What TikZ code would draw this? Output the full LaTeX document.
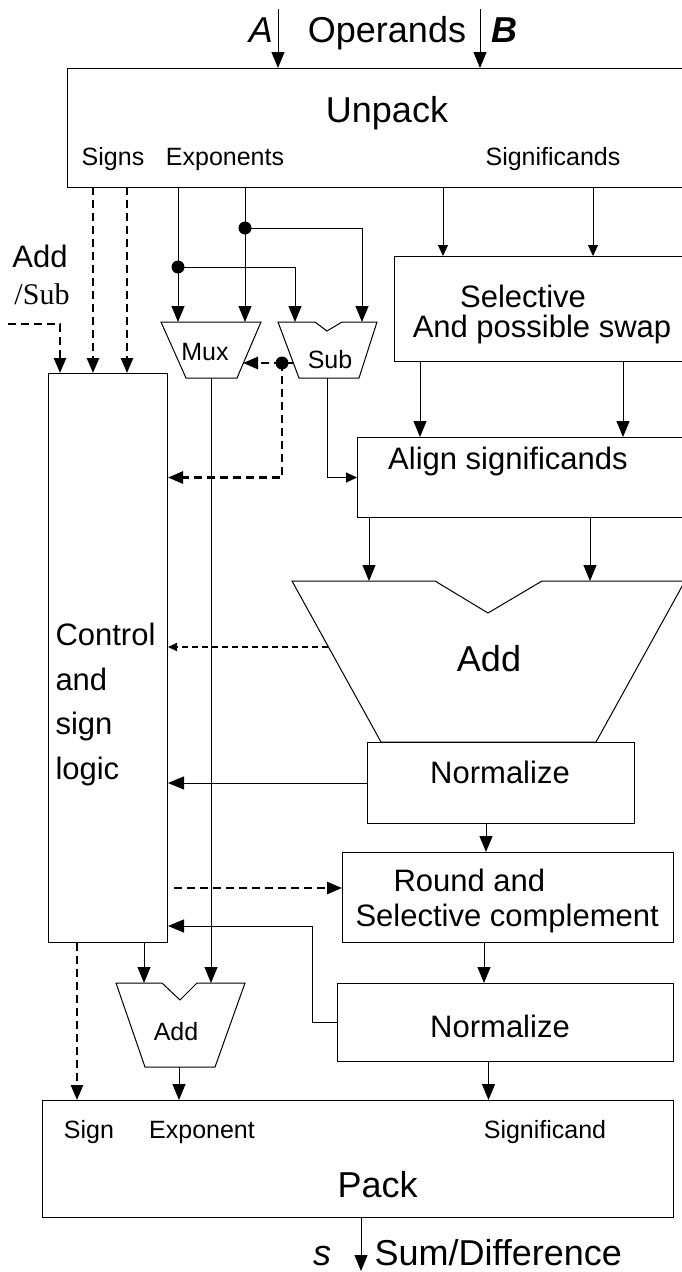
\documentclass[tikz,border=0pt]{standalone}
\usepackage{fontspec}
\setmainfont{Liberation Sans}
\newfontfamily\serifsub{Liberation Serif}
\usetikzlibrary{arrows.meta,calc}

\begin{document}
\begin{tikzpicture}[x=1pt,y=-1pt,line width=1pt,
    blk/.style={draw,inner sep=0pt,anchor=north west},
    big/.style={font=\fontsize{36}{40}\selectfont,anchor=base,inner sep=0pt},
    mid/.style={font=\fontsize{31}{36}\selectfont,anchor=base,inner sep=0pt},
    sml/.style={font=\fontsize{25}{30}\selectfont,anchor=base,inner sep=0pt},
    sig/.style={-{Triangle[length=16pt,width=13pt]}},
    tiny/.style={-{Triangle[length=11pt,width=10pt]}},
    ctl/.style={-{Triangle[length=15pt,width=12pt]},line width=2.6pt,
                dash pattern=on 8pt off 5pt},
    ctlthin/.style={-{Triangle[length=9pt,width=8pt]},line width=1.8pt,
                dash pattern=on 6pt off 4pt},
    joint/.style={circle,fill,inner sep=0pt,minimum size=13pt}]

    \useasboundingbox (0,0) rectangle (681,1272);

    % blocks
    \node[blk,minimum width=633pt,minimum height=119pt] (unpack) at (67,68) {};
    \node[blk,minimum width=306pt,minimum height=105pt] (sel) at (394,256) {};
    \node[blk,minimum width=343pt,minimum height=80pt] (align) at (357,437) {};
    \node[blk,minimum width=119pt,minimum height=569pt] (ctrl) at (48,373) {};
    \node[blk,minimum width=267pt,minimum height=81pt] (norm1) at (367,742) {};
    \node[blk,minimum width=331pt,minimum height=90pt] (round) at (342,852) {};
    \node[blk,minimum width=336pt,minimum height=78pt] (norm2) at (337,983) {};
    \node[blk,minimum width=631pt,minimum height=117pt] (pack) at (42,1100) {};

    % mux, subtractor and the two adders
    \draw (161,322) -- (261,322) -- (237,378) -- (186,378) -- cycle;
    \draw (278,322) -- (315,322) -- (327,331) -- (342,322) -- (377,322)
          -- (359,378) -- (299,378) -- cycle;
    \draw (292,581) -- (435,581) -- (488,613) -- (542,581) -- (685,581)
          -- (596,742) -- (381,742) -- cycle;
    \draw (116,983) -- (162,983) -- (180,1000) -- (197,983) -- (245,983)
          -- (215,1067) -- (145,1067) -- cycle;

    % ports
    \coordinate (opA) at (278,9);
    \coordinate (opB) at (480,9);
    \coordinate (sgA) at (93,187);
    \coordinate (sgB) at (127,187);
    \coordinate (exA) at (178,187);
    \coordinate (exB) at (245,187);
    \coordinate (sfA) at (443,187);
    \coordinate (sfB) at (593,187);
    \coordinate (addsub) at (8,324);
    \coordinate (muxA) at (178,322);
    \coordinate (muxB) at (245,322);
    \coordinate (subA) at (295,322);
    \coordinate (subB) at (362,322);
    \coordinate (muxR) at (243,363);
    \coordinate (subL) at (293,363);
    \coordinate (muxO) at (211,378);
    \coordinate (subO) at (327,378);
    \coordinate (addA) at (369,581);
    \coordinate (addB) at (590,581);
    \coordinate (addL) at (328,647);
    \coordinate (rdIn) at (342,888);
    \coordinate (fb) at (312,926);
    \coordinate (eaddA) at (144,983);
    \coordinate (eaddB) at (211,983);
    \coordinate (eaddO) at (179,1067);
    \coordinate (out) at (361,1271);

    % texts
    \node[big] (tA) at (261,42) {\itshape A};
    \node[big] (tOp) at (387,42) {Operands};
    \node[big] (tB) at (504,42) {\bfseries\itshape B};
    \node[big] (tUn) at (387,122) {Unpack};
    \node[sml] (tSg) at (113,165) {Signs};
    \node[sml] (tEx) at (225,165) {Exponents};
    \node[sml] (tSf) at (553,165) {Significands};
    \node[mid] (tAdd) at (40,267) {Add};
    \node[mid,font=\serifsub\fontsize{30}{34}\selectfont] (tSub) at (42,304) {/Sub};
    \node[sml] (tMux) at (205,360) {Mux};
    \node[sml] (tSb) at (330,368) {Sub};
    \node[mid] (tSel) at (523,307) {Selective};
    \node[mid] (tSw) at (542,337) {And possible swap};
    \node[mid] (tAl) at (508,469) {Align significands};
    \node[mid,anchor=north west,align=left,font=\fontsize{31}{44.5}\selectfont]
      (tCt) at (55,623) {Control\\and\\sign\\logic};
    \node[big] (tAd) at (489,671) {Add};
    \node[mid] (tN1) at (500,783) {Normalize};
    \node[mid,anchor=base west] (tRd) at (393,891) {Round and};
    \node[mid,anchor=base west] (tSc) at (355,926) {Selective complement};
    \node[mid] (tN2) at (500,1037) {Normalize};
    \node[sml] (tEa) at (176,1040) {Add};
    \node[sml] (tPs) at (89,1138) {Sign};
    \node[sml] (tPe) at (202,1138) {Exponent};
    \node[sml] (tPf) at (545,1138) {Significand};
    \node[big,anchor=base west] (tPk) at (337,1197) {Pack};
    \node[big] (ts) at (322,1265) {\itshape s};
    \node[big,anchor=base west] (tSum) at (374,1265) {Sum/Difference};

    % operands in
    \draw[sig] (opA) -- (opA |- unpack.north);
    \draw[sig] (opB) -- (opB |- unpack.north);

    % signs and add/sub to control
    \draw[ctl] (sgA) -- (sgA |- ctrl.north);
    \draw[ctl] (sgB) -- (sgB |- ctrl.north);
    \draw[ctl] (addsub) -| ([xshift=12pt]ctrl.north west);

    % exponents
    \draw[sig] (exA) -- (muxA);
    \draw[sig] (exB) -- (muxB);
    \node[joint] (dA) at (178,267) {};
    \node[joint] (dB) at (245,228) {};
    \draw[sig] (dA.center) -| (subA);
    \draw[sig] (dB.center) -| (subB);
    \node[joint] (dC) at (282,363) {};
    \draw[line width=2.6pt] (subL) -- (dC.center);
    \draw[ctl] (dC.center) -- (muxR);
    \draw[ctl] (dC.center) |- (ctrl.east |- align.west);
    \draw[tiny] (subO) |- (align.west);
    \draw[sig] (muxO) -- (eaddB);

    % significands
    \draw[tiny] (sfA) -- (sfA |- sel.north);
    \draw[tiny] (sfB) -- (sfB |- sel.north);
    \draw[sig] ([xshift=26pt]sel.south west) -- ([xshift=26pt]sel.south west |- align.north);
    \draw[sig] ([xshift=229pt]sel.south west) -- ([xshift=229pt]sel.south west |- align.north);
    \draw[sig] (addA |- align.south) -- (addA);
    \draw[sig] (addB |- align.south) -- (addB);
    \draw[ctlthin] (addL) -- (addL -| ctrl.east);
    \draw[sig] (norm1.west) -- (norm1.west -| ctrl.east);
    \draw[sig] ([xshift=-15pt]norm1.south) -- ([xshift=-15pt]norm1.south |- round.north);
    \draw[ctl] ([xshift=6pt]ctrl.east |- rdIn) -- (rdIn);
    \draw[sig] ([xshift=-24pt]round.south) -- ([xshift=-24pt]round.south |- norm2.north);
    \draw[sig] (norm2.west) -| (fb) -- (fb -| ctrl.east);

    % to pack
    \draw[sig] (eaddA |- ctrl.south) -- (eaddA);
    \draw[ctl] ([xshift=29pt]ctrl.south west) -- ([xshift=29pt]ctrl.south west |- pack.north);
    \draw[sig] (eaddO) -- (eaddO |- pack.north);
    \draw[sig] ([xshift=-17pt]norm2.south) -- ([xshift=-17pt]norm2.south |- pack.north);
    \draw[sig] (out |- pack.south) -- (out);
\end{tikzpicture}
\end{document}
